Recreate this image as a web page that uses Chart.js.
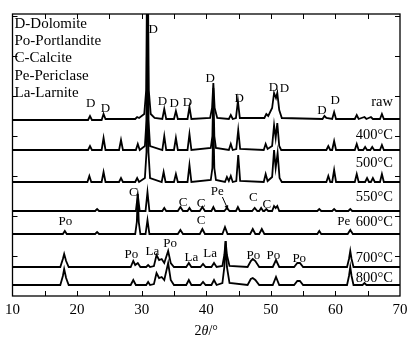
<!DOCTYPE html>
<html>
<head>
<meta charset="utf-8">
<script src="https://cdn.jsdelivr.net/npm/chart.js@4"></script>
<style>
  html, body { margin: 0; padding: 0; background: #fff; }
  #wrap { width: 414px; height: 346px; }
</style>
</head>
<body>
<div id="wrap"><canvas id="xrd" width="414" height="346"></canvas></div>
<script>
// 2θ / intensity pairs (intensity above each pattern's own baseline)
const raw = [[10,0],[21.7,0],[22.0,4],[22.3,0],[23.8,0],[24.1,6],[24.4,1],[29.0,1],[29.3,3],[29.6,2],[30.4,6],[30.7,30],[30.9,200],[31.1,30],[31.4,6],[32.0,2],[33.2,1],[33.5,11],[33.8,1],[35.0,1],[35.3,9],[35.6,1],[37.1,1],[37.4,13],[37.7,1],[40.6,2],[40.9,12],[41.1,37],[41.3,12],[41.7,2],[43.5,1],[43.8,5],[44.1,1],[44.6,2],[44.9,19],[45.2,2],[49.0,2],[49.3,6],[49.6,4],[50.2,12],[50.5,27],[50.8,22],[51.0,27],[51.3,10],[51.7,2],[58.0,1],[58.3,4],[58.6,2],[59.5,1],[59.8,8],[60.1,1],[63.0,1],[63.3,5],[63.6,1],[64.5,3],[64.8,1],[65.5,3],[65.8,1],[66.9,1],[67.2,6],[67.5,1],[70,1]];
const t400 = [[10,0],[21.7,0],[22.0,4],[22.3,0],[23.8,0],[24.1,12],[24.4,0],[26.5,0],[26.8,10],[27.1,0],[29.1,0],[29.4,6],[29.7,0],[30.5,4],[30.75,30],[30.9,200],[31.05,30],[31.3,4],[33.2,0],[33.5,14],[33.8,0],[35.0,0],[35.3,12],[35.6,0],[37.1,0],[37.4,16],[37.7,0],[40.7,2],[40.95,14],[41.1,62],[41.25,14],[41.5,2],[43.5,0],[43.8,6],[44.1,0],[44.65,1],[44.95,20],[45.25,1],[48.9,0],[49.2,6],[49.5,1],[50.2,4],[50.5,25],[50.75,12],[51.0,27],[51.3,4],[51.6,0],[58.6,0],[58.9,4],[59.2,0],[59.5,0],[59.8,9],[60.1,0],[63.0,0],[63.3,6],[63.6,0],[64.3,0],[64.6,3],[64.9,0],[65.4,0],[65.7,3],[66.0,0],[66.9,0],[67.2,5],[67.5,0],[70,0]];
const t500 = [[10,0],[21.6,0],[21.9,6],[22.2,0],[23.8,0],[24.1,10],[24.4,0],[26.5,0],[26.8,4],[27.1,0],[29.0,0],[29.3,4],[29.6,0],[30.5,4],[30.75,30],[30.9,200],[31.05,30],[31.3,4],[33.1,0],[33.4,10],[33.7,0],[35.0,0],[35.3,8],[35.6,0],[37.1,0],[37.4,17],[37.7,0],[40.7,2],[40.95,14],[41.1,60],[41.25,14],[41.5,2],[42.9,0],[43.2,5],[43.5,1],[43.8,6],[44.1,0],[44.65,1],[44.95,27],[45.25,1],[48.9,0],[49.2,8],[49.5,1],[50.2,5],[50.5,32],[50.75,14],[51.05,29],[51.35,4],[51.7,0],[58.6,0],[58.9,6],[59.2,0],[59.5,0],[59.8,12],[60.1,0],[63.0,0],[63.3,8],[63.6,0],[64.6,0],[64.9,4],[65.2,0],[65.5,0],[65.8,4],[66.1,0],[66.9,0],[67.2,8],[67.5,0],[70,0]];
const t550 = [[10,0],[22.8,0],[23.1,2],[23.4,0],[29.1,0],[29.4,16],[29.7,0],[30.6,0],[30.9,19],[31.2,0],[33.2,0],[33.5,3],[33.8,0],[35.6,0],[36.0,4],[36.4,0],[37.1,0],[37.4,3],[37.7,0],[39.0,0],[39.4,4],[39.8,0],[40.8,0],[41.1,4],[41.4,0],[42.8,0],[43.2,3],[43.6,0],[44.6,0],[44.9,4],[45.2,0],[47.1,0],[47.5,3],[47.9,0],[48.2,0],[48.5,3],[48.8,0],[49.0,0],[49.3,2],[49.6,0],[50.2,0],[50.5,5],[50.75,3],[51.0,5],[51.3,0],[57.2,0],[57.5,2],[57.8,0],[59.5,0],[59.8,2],[60.1,0],[62.0,0],[62.3,2],[62.6,0],[70,0]];
const t600 = [[10,0],[17.8,0],[18.1,3],[18.4,0],[22.8,0],[23.1,2],[23.4,0],[29.0,0],[29.25,12],[29.4,40],[29.55,12],[29.8,0],[30.6,0],[30.9,14],[31.2,0],[35.6,0],[36.0,4],[36.4,0],[39.0,0],[39.4,5],[39.8,0],[42.5,0],[42.9,7],[43.3,0],[46.8,0],[47.2,5],[47.6,0],[48.2,0],[48.6,5],[49.0,0],[57.2,0],[57.5,3],[57.8,0],[61.9,0],[62.3,4],[62.7,0],[70,0]];
const t700 = [[10,0],[17.4,0],[17.8,8],[18.0,13],[18.3,6],[18.7,0],[28.3,0],[28.7,6],[29.0,2],[29.4,4],[29.8,0],[30.7,0],[31.0,2],[31.3,0],[31.9,1],[32.3,12],[32.7,7],[33.1,8],[33.5,4],[34.1,16],[34.5,4],[35.0,0],[36.9,0],[37.3,4],[37.7,0],[39.1,0],[39.5,3],[39.9,0],[40.8,0],[41.2,4],[41.6,0],[42.5,1],[42.8,12],[43.0,26],[43.2,12],[43.6,1],[46.4,0],[46.9,6],[47.2,8],[47.6,6],[48.2,0],[50.3,0],[50.8,7],[51.3,0],[53.6,0],[54.1,4],[54.5,4],[55.0,0],[61.8,0],[62.1,8],[62.3,16],[62.5,8],[62.8,0],[70,0]];
const t800 = [[10,0],[17.4,0],[17.8,9],[18.0,16],[18.3,7],[18.7,0],[28.3,0],[28.7,5],[29.1,0],[30.7,0],[31.0,3],[31.3,0],[31.9,1],[32.3,12],[32.7,7],[33.1,8],[33.5,5],[34.1,22],[34.5,5],[35.0,0],[36.9,0],[37.3,5],[37.7,0],[39.1,0],[39.5,3],[39.9,0],[40.8,0],[41.2,5],[41.6,0],[42.5,2],[42.8,18],[43.0,44],[43.2,18],[43.6,2],[46.4,0],[46.9,6],[47.2,7],[47.6,5],[48.2,0],[50.3,0],[50.8,8],[51.3,0],[53.6,0],[54.1,4],[54.5,4],[55.0,0],[61.8,0],[62.1,9],[62.3,18],[62.5,9],[62.8,0],[64.2,0],[64.5,2],[64.8,0],[70,0]];

const patterns = [raw, t400, t500, t550, t600, t700, t800];
const names = ['raw', '400°C', '500°C', '550°C', '600°C', '700°C', '800°C'];
const offsets = [176, 146, 114, 85, 62, 29, 11];   // stacking offset of each pattern
const nameY = [194, 161, 133, 99, 74, 38, 18];

const xTicks = [10, 20, 30, 40, 50, 60, 70];
const phases = ['D-Dolomite', 'Po-Portlandite', 'C-Calcite', 'Pe-Periclase', 'La-Larnite'];

// peak labels: [text, 2θ, y]
const peakLabels = [
    ['D', 31.8, 266], ['D', 22.1, 192], ['D', 24.4, 187], ['D', 33.2, 194], ['D', 35.05, 192], ['D', 37.1, 193],
    ['D', 40.6, 217], ['D', 45.1, 197], ['D', 50.4, 208], ['D', 52.1, 207], ['D', 57.9, 185], ['D', 59.95, 195],
    ['C', 28.7, 103], ['C', 36.4, 93], ['C', 39.2, 92], ['Pe', 41.7, 104], ['C', 47.3, 98], ['C', 49.4, 91],
    ['Po', 18.2, 74], ['C', 39.2, 75], ['Pe', 61.3, 74],
    ['Po', 28.4, 41], ['La', 31.65, 44], ['Po', 34.4, 52], ['La', 37.7, 38], ['La', 40.6, 42],
    ['Po', 47.3, 40], ['Po', 50.4, 40], ['Po', 54.4, 37]
];
const arrowFrom = [42.5, 99];
const arrowTo = [43.4, 86];

const serif = '"Liberation Serif", "Times New Roman", serif';

const datasets = patterns.map((pts, i) => ({
    label: names[i],
    data: pts.map(p => ({ x: p[0], y: p[1] + offsets[i] })),
    borderColor: '#000',
    borderWidth: 1.8,
    pointRadius: 0,
    tension: 0,
    fill: false
}));

// frame, inward ticks, texts
const overlay = {
    id: 'overlay',
    afterDraw(chart) {
        const { ctx, chartArea: a, scales: { x, y } } = chart;
        ctx.save();
        ctx.strokeStyle = '#000';
        ctx.lineWidth = 1.3;
        ctx.strokeRect(a.left, a.top, a.right - a.left, a.bottom - a.top);
        ctx.lineWidth = 1;
        ctx.beginPath();
        for (let v = 15; v < 70; v += 5) {
            const px = Math.round(x.getPixelForValue(v)) + 0.5;
            ctx.moveTo(px, a.bottom); ctx.lineTo(px, a.bottom - 5);
            ctx.moveTo(px, a.top); ctx.lineTo(px, a.top + 5);
        }
        for (let v = 40; v < 282; v += 40) {
            const py = Math.round(y.getPixelForValue(v)) + 0.5;
            ctx.moveTo(a.left, py); ctx.lineTo(a.left + 5, py);
            ctx.moveTo(a.right, py); ctx.lineTo(a.right - 5, py);
        }
        ctx.stroke();

        ctx.fillStyle = '#000';
        ctx.textBaseline = 'middle';

        // phase key
        ctx.font = '15px ' + serif;
        ctx.textAlign = 'left';
        phases.forEach((t, i) => ctx.fillText(t, a.left + 2, a.top + 10 + i * 17.2));

        // pattern names
        ctx.font = '14.5px ' + serif;
        ctx.textAlign = 'right';
        names.forEach((t, i) => ctx.fillText(t, x.getPixelForValue(68.9), y.getPixelForValue(nameY[i])));

        // peak labels
        ctx.font = '13px ' + serif;
        ctx.textAlign = 'center';
        peakLabels.forEach(([t, vx, vy]) => ctx.fillText(t, x.getPixelForValue(vx), y.getPixelForValue(vy)));

        // arrow Pe -> peak
        const x1 = x.getPixelForValue(arrowFrom[0]), y1 = y.getPixelForValue(arrowFrom[1]);
        const x2 = x.getPixelForValue(arrowTo[0]), y2 = y.getPixelForValue(arrowTo[1]);
        ctx.lineWidth = 1;
        ctx.beginPath(); ctx.moveTo(x1, y1); ctx.lineTo(x2, y2); ctx.stroke();
        const ang = Math.atan2(y2 - y1, x2 - x1);
        ctx.beginPath();
        ctx.moveTo(x2, y2);
        ctx.lineTo(x2 - 5 * Math.cos(ang - 0.4), y2 - 5 * Math.sin(ang - 0.4));
        ctx.lineTo(x2 - 5 * Math.cos(ang + 0.4), y2 - 5 * Math.sin(ang + 0.4));
        ctx.closePath(); ctx.fill();

        // axis title 2θ/° (θ italic)
        const p1 = '2', p3 = '/°';
        ctx.textAlign = 'left';
        ctx.font = 'italic 14px ' + serif;
        const w2 = ctx.measureText('θ').width;
        ctx.font = '14px ' + serif;
        const w1 = ctx.measureText(p1).width, w3 = ctx.measureText(p3).width;
        let tx = (a.left + a.right) / 2 - (w1 + w2 + w3) / 2;
        const ty = 331;
        ctx.fillText(p1, tx, ty); tx += w1;
        ctx.font = 'italic 14px ' + serif;
        ctx.fillText('θ', tx, ty); tx += w2;
        ctx.font = '14px ' + serif;
        ctx.fillText(p3, tx, ty);
        ctx.restore();
    }
};

new Chart(document.getElementById('xrd'), {
    type: 'line',
    data: { datasets },
    options: {
        responsive: false,
        animation: false,
        layout: { padding: { left: 12, right: 14, top: 14, bottom: 0 } },
        plugins: { legend: { display: false }, tooltip: { enabled: false } },
        scales: {
            x: {
                type: 'linear',
                min: 10,
                max: 70,
                afterFit: s => { s.height = 50; },
                afterBuildTicks: s => { s.ticks = xTicks.map(v => ({ value: v })); },
                grid: { display: false, drawTicks: false },
                border: { display: false },
                ticks: { color: '#000', padding: 5, maxRotation: 0, font: { family: serif, size: 15 } }
            },
            y: {
                display: false,
                min: 0,
                max: 282
            }
        }
    },
    plugins: [overlay]
});
</script>
</body>
</html>
